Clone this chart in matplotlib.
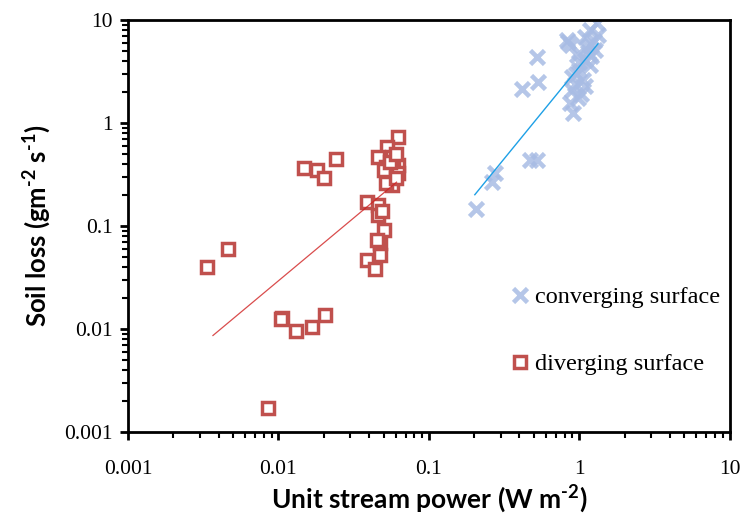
import matplotlib.pyplot as plt
import numpy as np

# converging surface: unit stream power (W m-2), soil loss (g m-2 s-1)
conv_x = [0.205, 0.262, 0.275, 0.47, 0.52, 0.415, 0.53, 0.52,
          0.84, 0.88, 0.905, 0.87, 0.98, 0.90, 1.09, 0.90, 1.00, 1.17,
          0.96, 1.27, 1.17, 0.83, 1.09, 1.17, 1.31, 1.33, 1.09, 1.20,
          0.95, 1.05, 1.12, 1.00, 0.93, 1.25, 1.02, 1.15]
conv_y = [0.146, 0.267, 0.327, 0.437, 0.437, 2.14, 2.5, 4.37,
          6.1, 5.7, 1.25, 1.56, 1.75, 2.1, 2.3, 2.8, 3.3, 3.65,
          4.6, 5.1, 5.7, 6.4, 6.8, 8.0, 9.3, 7.1, 4.1, 4.5,
          3.0, 2.6, 5.3, 3.9, 2.4, 6.2, 1.9, 4.9]

# diverging surface
div_x = [0.00335, 0.0046, 0.0085, 0.0105, 0.0104, 0.013, 0.0167, 0.0204,
         0.0148, 0.018, 0.020, 0.024,
         0.039, 0.046, 0.046, 0.050, 0.047, 0.045, 0.047, 0.039, 0.044,
         0.062, 0.053, 0.046, 0.057, 0.062, 0.058, 0.052, 0.062, 0.050,
         0.057, 0.052, 0.060, 0.055, 0.060, 0.049]
div_y = [0.040, 0.060, 0.0017, 0.0128, 0.0124, 0.0095, 0.0104, 0.0137,
         0.366, 0.35, 0.29, 0.45,
         0.17, 0.16, 0.128, 0.091, 0.068, 0.073, 0.052, 0.047, 0.038,
         0.73, 0.58, 0.47, 0.47, 0.39, 0.37, 0.37, 0.33, 0.35,
         0.25, 0.26, 0.29, 0.42, 0.50, 0.14]

# power-law trend lines y = a * x^b
conv_a, conv_b, conv_range = 3.52, 1.79, (0.202, 1.33)
div_a, div_b, div_range = 8.07, 1.22, (0.00367, 0.061)

ticks = [0.001, 0.01, 0.1, 1, 10]
tick_labels = ['0.001', '0.01', '0.1', '1', '10']

# superscripts in the axis titles are bold, with a plain hyphen
plt.rcParams['mathtext.fontset'] = 'custom'
plt.rcParams['mathtext.rm'] = 'Lato:bold'
plt.rcParams['mathtext.bf'] = 'Lato:bold'

fig = plt.figure(figsize=(7.42, 5.26), dpi=100)
ax = fig.add_axes([0.1725, 0.179, 0.811, 0.783])

ax.plot(conv_x, conv_y, linestyle='none', marker='x', ms=10, mew=3.3,
        color='#a8bce4', alpha=0.85, label='converging surface')
ax.plot(div_x, div_y, linestyle='none', marker='s', ms=8.6, mew=2.5,
        mec='#c0504d', mfc='white', label='diverging surface')

xs = np.logspace(np.log10(conv_range[0]), np.log10(conv_range[1]), 50)
ax.plot(xs, conv_a * xs ** conv_b, color='#1ea0e6', lw=1.0)
xs = np.logspace(np.log10(div_range[0]), np.log10(div_range[1]), 50)
ax.plot(xs, div_a * xs ** div_b, color='#d02020', lw=0.9, alpha=0.8)

ax.set_xscale('log')
ax.set_yscale('log')
ax.set_xlim(0.001, 10)
ax.set_ylim(0.001, 10)
ax.set_xticks(ticks)
ax.set_yticks(ticks)
ax.set_xticklabels(tick_labels, fontfamily='Liberation Serif', fontsize=15.5)
ax.set_yticklabels(tick_labels, fontfamily='Liberation Serif', fontsize=15.5)

for s in ax.spines.values():
    s.set_linewidth(2)
ax.tick_params(which='major', direction='out', length=6, width=2)
ax.tick_params(axis='x', which='major', pad=14)
ax.tick_params(axis='y', which='major', pad=5)
ax.tick_params(which='minor', direction='out', length=4, width=1.5)

ax.set_xlabel('Unit stream power (W m$^{\\text{-2}}$)', fontfamily='Lato',
              fontweight='bold', fontsize=19, labelpad=3)
ax.set_ylabel('Soil loss (gm$^{\\text{-2}}$ s$^{\\text{-1}}$)', fontfamily='Lato',
              fontweight='bold', fontsize=18.5, labelpad=8)

ax.legend(loc='center right', bbox_to_anchor=(1.0, 0.245), frameon=False,
          prop={'family': 'Liberation Serif', 'size': 17.5}, labelspacing=1.85,
          handlelength=0.6, handletextpad=0.3, borderaxespad=0.0)

fig.savefig('out.png', dpi=100)
